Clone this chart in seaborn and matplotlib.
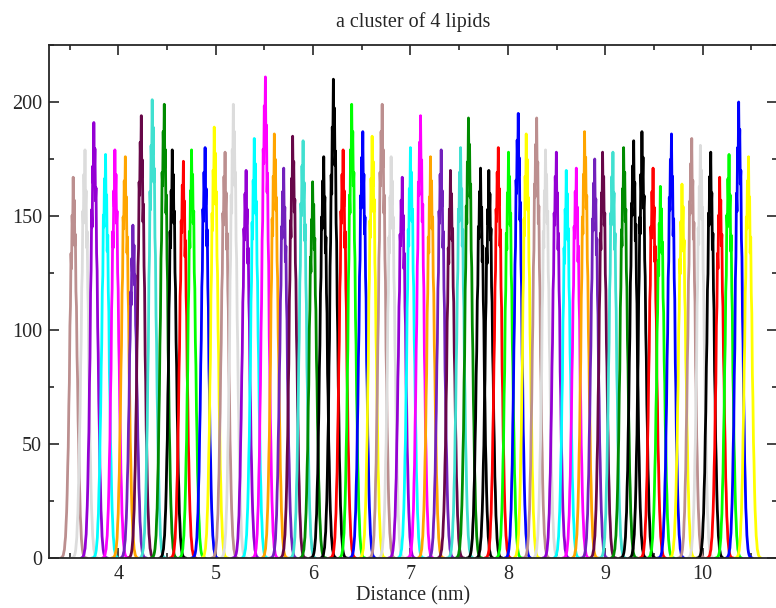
import numpy as np
import pandas as pd
import seaborn as sns
import matplotlib.pyplot as plt
from matplotlib.ticker import MultipleLocator

sns.set_style("ticks")
plt.rcParams["font.family"] = ["Liberation Serif", "DejaVu Serif"]

# peak positions (nm), peak heights and Grace colour names, read left to right
centers = [3.543, 3.653, 3.755, 3.864, 3.971, 4.067, 4.156, 4.231, 4.354, 4.467,
           4.560, 4.663, 4.758, 4.886, 4.991, 5.091, 5.187, 5.307, 5.402, 5.505,
           5.608, 5.693, 5.796, 5.892, 6.001, 6.104, 6.214, 6.303, 6.402, 6.505,
           6.612, 6.704, 6.807, 6.910, 7.005, 7.098, 7.211, 7.310, 7.416, 7.509,
           7.601, 7.714, 7.810, 7.896, 8.012, 8.101, 8.194, 8.290, 8.392, 8.492,
           8.605, 8.697, 8.793, 8.886, 8.978, 9.073, 9.194, 9.286, 9.382, 9.485,
           9.571, 9.674, 9.793, 9.882, 9.982, 10.077, 10.180, 10.265, 10.375, 10.465]
heights = [167, 179, 191, 177, 179, 176, 146, 194, 201, 199,
           179, 174, 179, 180, 189, 178, 199, 170, 184, 211,
           186, 171, 185, 183, 165, 176, 210, 179, 199, 187,
           185, 199, 176, 167, 180, 194, 176, 179, 170, 180,
           193, 171, 170, 180, 178, 195, 186, 193, 179, 178,
           170, 171, 187, 175, 178, 178, 180, 183, 187, 171,
           163, 186, 164, 184, 181, 178, 167, 177, 200, 176]
colors = ["brown", "grey", "violet", "cyan", "magenta", "orange", "indigo", "maroon", "turquoise", "green4",
          "black", "red", "green", "blue", "yellow", "brown", "grey", "violet", "cyan", "magenta",
          "orange", "indigo", "maroon", "turquoise", "green4", "black", "black", "red", "green", "blue",
          "yellow", "brown", "grey", "violet", "cyan", "magenta", "orange", "indigo", "maroon", "turquoise",
          "green4", "black", "black", "red", "green", "blue", "yellow", "brown", "grey", "violet",
          "cyan", "magenta", "orange", "indigo", "maroon", "turquoise", "green4", "black", "black", "red",
          "green", "blue", "yellow", "brown", "grey", "black", "red", "green", "blue", "yellow"]

# normalised histogram shape of a single peak
profile = [0, 0, 0.001, 0.002, 0.005, 0.008, 0.016, 0.022, 0.041, 0.055,
           0.09, 0.12, 0.17, 0.24, 0.29, 0.40, 0.46, 0.61, 0.66, 0.80,
           0.76, 0.90, 0.86, 1.0, 0.88, 0.94, 0.82, 0.85, 0.70, 0.66,
           0.53, 0.47, 0.36, 0.30, 0.21, 0.17, 0.11, 0.085, 0.05, 0.035,
           0.02, 0.012, 0.007, 0.004, 0.002, 0.001, 0, 0, 0]

grace = {"black": "#000000", "red": "#ff0000", "green": "#00ff00", "blue": "#0000ff",
         "yellow": "#ffff00", "brown": "#bc8f8f", "grey": "#dcdcdc", "violet": "#9400d3",
         "cyan": "#00ffff", "magenta": "#ff00ff", "orange": "#ffa500", "indigo": "#7221bc",
         "maroon": "#670748", "turquoise": "#40e0d0", "green4": "#008b00"}

offsets = np.linspace(-0.135, 0.135, len(profile))
rows = []
for i, (c, h) in enumerate(zip(centers, heights)):
    shape = profile if i % 2 == 0 else profile[::-1]
    for dx, p in zip(offsets, shape):
        rows.append({"peak": i, "x": c + dx, "y": h * p})
df = pd.DataFrame(rows)

fig = plt.figure(figsize=(7.76, 6.08), dpi=100)
ax = fig.add_axes([49 / 776, 50 / 608, 728 / 776, 513 / 608])

sns.lineplot(data=df, x="x", y="y", hue="peak", units="peak", estimator=None, sort=False,
             palette=[grace[c] for c in colors], legend=False, linewidth=2.0, ax=ax)

ax.set_xlim(3.289, 10.763)
ax.set_ylim(0, 225)
ax.xaxis.set_major_locator(MultipleLocator(1))
ax.xaxis.set_minor_locator(MultipleLocator(0.5))
ax.yaxis.set_major_locator(MultipleLocator(50))
ax.yaxis.set_minor_locator(MultipleLocator(25))
ax.tick_params(which="both", direction="in", top=True, right=True, width=1.2, labelsize=14.5)
ax.tick_params(which="major", length=7.2, pad=5)
ax.tick_params(which="minor", length=3.6)
for s in ax.spines.values():
    s.set_linewidth(1.3)

ax.set_xlabel("Distance (nm)", fontsize=14.5, labelpad=2)
ax.set_ylabel("")
ax.set_title("a cluster of 4 lipids", fontsize=14.5, pad=13)

plt.savefig("out.png", dpi=100)
